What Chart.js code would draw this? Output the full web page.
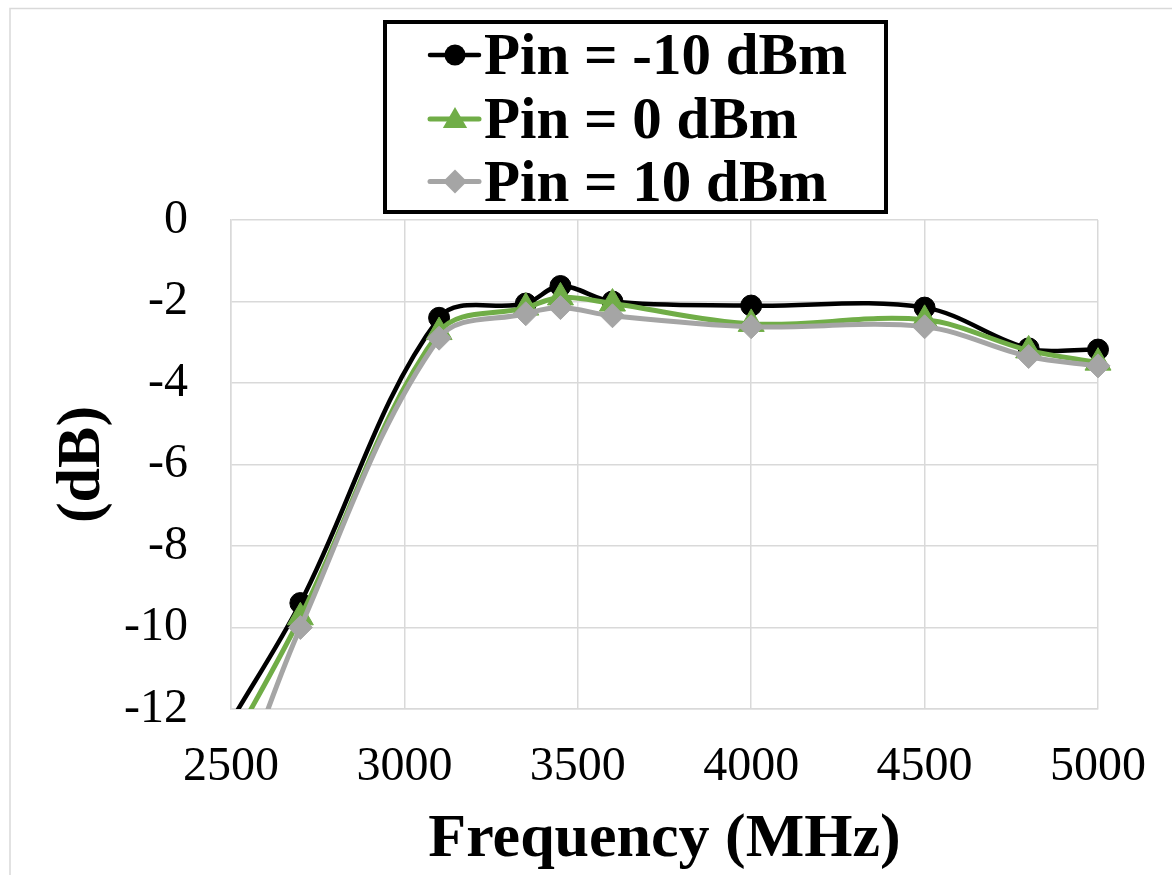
<!DOCTYPE html>
<html>
<head>
<meta charset="utf-8">
<script src="https://cdn.jsdelivr.net/npm/chart.js@4.4.1/dist/chart.umd.min.js"></script>
<style>
html,body{margin:0;padding:0;background:#fff;}
#wrap{position:relative;width:1172px;height:875px;}
canvas{display:block;}
</style>
</head>
<body>
<div id="wrap"><canvas id="c" width="1172" height="875"></canvas></div>
<script>
// ---- data ----
const frequencies = [2500, 2700, 3100, 3350, 3450, 3600, 4000, 4500, 4800, 5000];
const pinMinus10 = [-12.3, -9.4, -2.4, -2.05, -1.62, -2.0, -2.1, -2.15, -3.15, -3.18];
const pin0       = [-12.9, -9.75, -2.75, -2.15, -1.9, -2.05, -2.55, -2.45, -3.2, -3.5];
const pin10      = [-14.5, -10.0, -2.9, -2.3, -2.15, -2.35, -2.62, -2.62, -3.35, -3.58];
const seriesLabels = ['Pin = -10 dBm', 'Pin = 0 dBm', 'Pin = 10 dBm'];
const xTickValues = [2500, 3000, 3500, 4000, 4500, 5000];
const yTickValues = [0, -2, -4, -6, -8, -10, -12];
const xTitle = 'Frequency (MHz)';
const yTitle = '(dB)';

const colors = ['#000000', '#70AD47', '#A5A5A5'];
const styles = ['circle', 'triangle', 'rectRot'];
const radii = [10.5, 15, 12];
const widths = [4.5, 5, 5];
const SERIF = '"Liberation Serif", "Times New Roman", serif';

const toPts = arr => frequencies.map((f, i) => ({x: f, y: arr[i]}));
const seriesData = [pinMinus10, pin0, pin10];

const datasets = seriesData.map((arr, i) => ({
  label: seriesLabels[i],
  data: toPts(arr),
  borderColor: colors[i],
  backgroundColor: colors[i],
  pointBackgroundColor: colors[i],
  pointBorderColor: colors[i],
  pointBorderWidth: 1,
  pointStyle: styles[i],
  pointRadius: radii[i],
  pointHoverRadius: radii[i],
  borderWidth: widths[i],
  tension: 0.35,
  fill: false,
  order: 3 - i,
  clip: {left: 0, top: false, right: false, bottom: 0}
}));

function drawMarker(ctx, style, x, y, r) {
  ctx.beginPath();
  if (style === 'circle') {
    ctx.arc(x, y, r, 0, Math.PI * 2);
  } else if (style === 'triangle') {
    ctx.moveTo(x, y - r);
    ctx.lineTo(x + 0.866 * r, y + 0.5 * r);
    ctx.lineTo(x - 0.866 * r, y + 0.5 * r);
    ctx.closePath();
  } else {
    ctx.moveTo(x, y - r);
    ctx.lineTo(x + r, y);
    ctx.lineTo(x, y + r);
    ctx.lineTo(x - r, y);
    ctx.closePath();
  }
  ctx.fill();
}

const framePlugin = {
  id: 'frame',
  beforeDraw(chart) {
    const ctx = chart.ctx;
    ctx.save();
    ctx.fillStyle = '#ffffff';
    ctx.fillRect(0, 0, chart.width, chart.height);
    ctx.strokeStyle = '#d9d9d9';
    ctx.lineWidth = 1.5;
    ctx.beginPath();
    ctx.moveTo(10, chart.height);
    ctx.lineTo(10, 8.5);
    ctx.lineTo(chart.width, 8.5);
    ctx.stroke();
    ctx.restore();
  }
};

const boxLegendPlugin = {
  id: 'boxLegend',
  afterDraw(chart) {
    const ctx = chart.ctx;
    ctx.save();
    ctx.strokeStyle = '#000';
    ctx.lineWidth = 4;
    ctx.strokeRect(385, 22, 501, 190);
    const rowY = [55, 119, 181.5];
    ctx.font = 'bold 59px ' + SERIF;
    ctx.textAlign = 'left';
    ctx.textBaseline = 'alphabetic';
    seriesLabels.forEach((lab, i) => {
      const y = rowY[i];
      ctx.strokeStyle = colors[i];
      ctx.lineWidth = widths[i];
      ctx.lineCap = 'round';
      ctx.beginPath();
      ctx.moveTo(430, y);
      ctx.lineTo(479, y);
      ctx.stroke();
      ctx.fillStyle = colors[i];
      drawMarker(ctx, styles[i], 455, y + (styles[i] === 'triangle' ? 2 : 0), radii[i] - (i === 1 ? 1 : 0));
      ctx.fillStyle = '#000';
      ctx.fillText(lab, 484, y + 19);
    });
    ctx.restore();
  }
};

new Chart(document.getElementById('c'), {
  type: 'line',
  data: {datasets},
  plugins: [framePlugin, boxLegendPlugin],
  options: {
    responsive: false,
    animation: false,
    events: [],
    layout: {padding: {top: 220, right: 74, bottom: 0, left: 0}},
    plugins: {
      legend: {display: false},
      tooltip: {enabled: false},
      title: {display: false}
    },
    scales: {
      x: {
        type: 'linear',
        min: 2500,
        max: 5000,
        afterBuildTicks: s => { s.ticks = xTickValues.map(v => ({value: v})); },
        afterFit: s => { s.height = 166; s.paddingLeft = 0; s.paddingRight = 0; },
        grid: {color: '#d9d9d9', lineWidth: 1.5, drawTicks: false},
        border: {color: '#d9d9d9', width: 1.5},
        ticks: {
          color: '#000',
          padding: 30,
          maxRotation: 0,
          autoSkip: false,
          callback: v => String(v),
          font: {family: SERIF, size: 48}
        },
        title: {
          display: true,
          text: xTitle,
          color: '#000',
          font: {family: SERIF, size: 62, weight: 'bold', lineHeight: 1},
          padding: {top: 12, bottom: 4}
        }
      },
      y: {
        type: 'linear',
        min: -12,
        max: 0,
        afterBuildTicks: s => { s.ticks = yTickValues.map(v => ({value: v})); },
        afterFit: s => { s.width = 231; },
        grid: {color: '#d9d9d9', lineWidth: 1.5, drawTicks: false},
        border: {color: '#d9d9d9', width: 1.5},
        ticks: {
          color: '#000',
          padding: 43,
          autoSkip: false,
          callback: v => String(v),
          font: {family: SERIF, size: 48}
        },
        title: {
          display: true,
          text: yTitle,
          color: '#000',
          font: {family: SERIF, size: 62, weight: 'bold', lineHeight: 1},
          padding: {top: 52, bottom: 0}
        }
      }
    }
  }
});
</script>
</body>
</html>
